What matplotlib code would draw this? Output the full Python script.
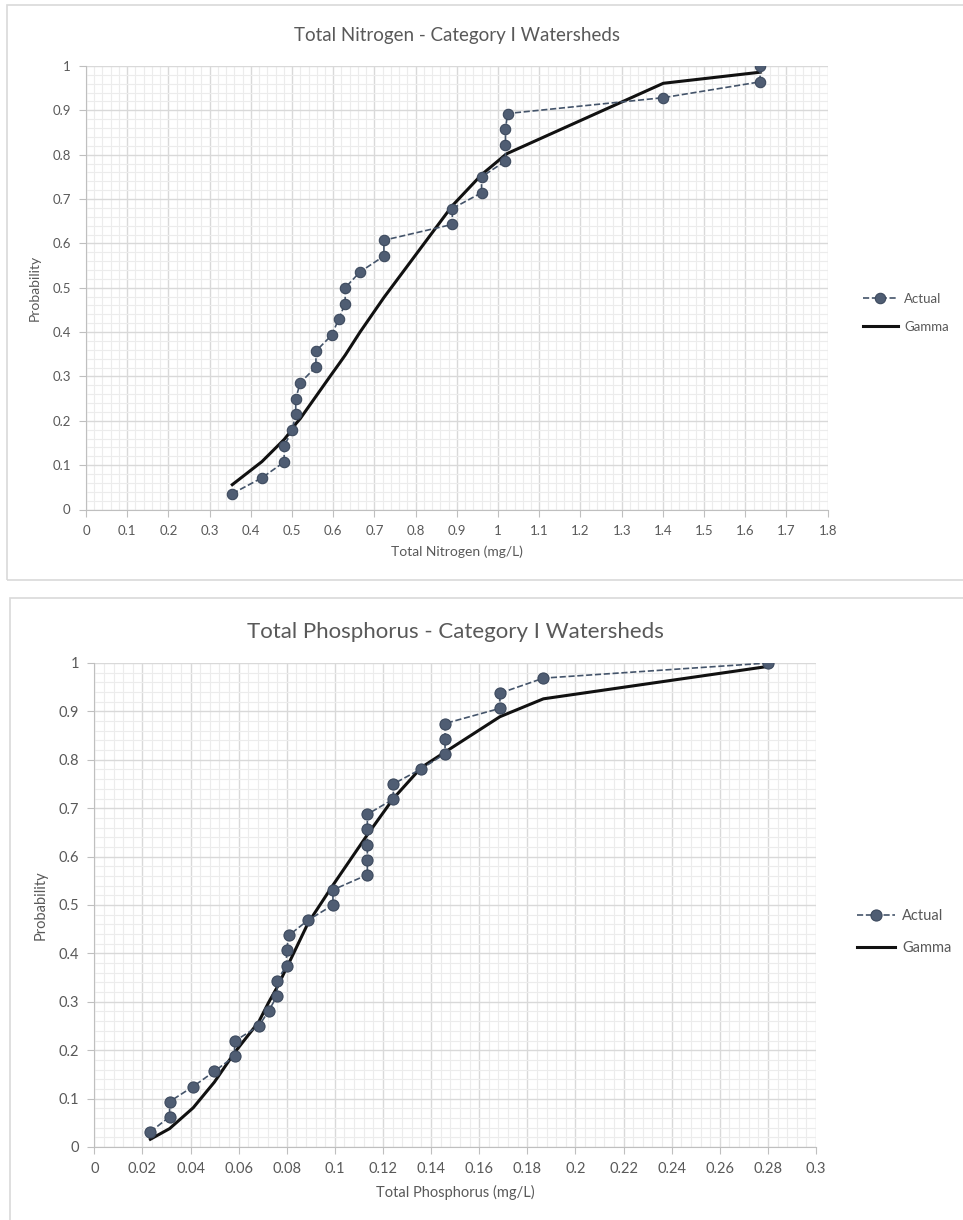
import matplotlib
matplotlib.use("Agg")
import matplotlib.pyplot as plt
from matplotlib.patches import Rectangle
from matplotlib.ticker import MultipleLocator
import numpy as np

plt.rcParams['font.family'] = ['Lato', 'DejaVu Sans']

# Total Nitrogen - observed (plotting position i/28) and fitted gamma CDF
tn_actual_x = [0.355, 0.427, 0.481, 0.481, 0.500, 0.509, 0.509, 0.520, 0.558, 0.558,
               0.596, 0.613, 0.629, 0.629, 0.665, 0.723, 0.723, 0.889, 0.889, 0.960,
               0.960, 1.018, 1.018, 1.018, 1.023, 1.401, 1.636, 1.636]
tn_actual_p = [i / 28 for i in range(1, 29)]
tn_gamma_x = [0.355, 0.427, 0.481, 0.500, 0.509, 0.520, 0.558, 0.596, 0.613, 0.629,
              0.665, 0.723, 0.889, 0.960, 1.018, 1.023, 1.401, 1.636]
tn_gamma_p = [0.056, 0.108, 0.158, 0.180, 0.193, 0.205, 0.255, 0.305, 0.327, 0.348,
              0.400, 0.478, 0.685, 0.755, 0.800, 0.803, 0.961, 0.986]

# Total Phosphorus - observed (plotting position i/32) and fitted gamma CDF
tp_actual_x = [0.0233, 0.0313, 0.0313, 0.0411, 0.0499, 0.0583, 0.0583, 0.0684, 0.0725, 0.0760,
               0.0760, 0.0799, 0.0799, 0.0809, 0.0889, 0.0992, 0.0992, 0.1135, 0.1135, 0.1135,
               0.1135, 0.1135, 0.1243, 0.1243, 0.1359, 0.1458, 0.1458, 0.1458, 0.1686, 0.1686,
               0.1867, 0.2801]
tp_actual_p = [i / 32 for i in range(1, 33)]
tp_gamma_x = [0.0233, 0.0313, 0.0411, 0.0499, 0.0583, 0.0684, 0.0725, 0.0760, 0.0799, 0.0809,
              0.0889, 0.0992, 0.1135, 0.1243, 0.1359, 0.1458, 0.1686, 0.1867, 0.2801]
tp_gamma_p = [0.016, 0.038, 0.081, 0.134, 0.195, 0.259, 0.299, 0.330, 0.370, 0.380,
              0.463, 0.541, 0.645, 0.720, 0.784, 0.816, 0.889, 0.926, 0.993]

W, H = 963, 1220
fig = plt.figure(figsize=(W / 100, H / 100), dpi=100)

TXT = '#595959'
GRID = '#d9d9d9'
MINOR = '#ececec'
PT = '#4f5d73'


def px_box(l, t, r, b):
    return [l / W, 1 - b / H, (r - l) / W, (b - t) / H]


# chart frames
fig.add_artist(Rectangle((7 / W, 1 - 580 / H), 970 / W, 575 / H, transform=fig.transFigure,
                         fill=False, edgecolor=GRID, lw=1.2))
fig.add_artist(Rectangle((10 / W, 1 - 1240 / H), 970 / W, 642 / H, transform=fig.transFigure,
                         fill=False, edgecolor=GRID, lw=1.2))


def draw(ax, ax_x, ax_p, g_x, g_p, xmax, xmaj, ymaj, title, xlabel, fs_tick, fs_title, fs_lab, ms):
    ax.plot(ax_x, ax_p, linestyle='--', color='#44546a', lw=1.2, marker='o', markersize=ms,
            markerfacecolor=PT, markeredgecolor='#3d4a5e', markeredgewidth=0.8, label='Actual', zorder=4)
    ax.plot(g_x, g_p, '-', color='#111111', lw=2.2, label='Gamma', zorder=3)
    ax.set_xlim(0, xmax)
    ax.set_ylim(0, 1)
    ax.xaxis.set_major_locator(MultipleLocator(xmaj))
    ax.xaxis.set_minor_locator(MultipleLocator(xmaj / 5))
    ax.yaxis.set_major_locator(MultipleLocator(ymaj))
    ax.yaxis.set_minor_locator(MultipleLocator(ymaj / 5))
    ax.grid(which='major', color=GRID, lw=1.0)
    ax.grid(which='minor', color=MINOR, lw=0.8)
    ax.set_axisbelow(True)
    for s in ['top', 'right']:
        ax.spines[s].set_visible(False)
    for s in ['left', 'bottom']:
        ax.spines[s].set_color('#bfbfbf')
    ax.tick_params(which='major', length=5, color='#bfbfbf', labelcolor=TXT, labelsize=fs_tick, pad=6)
    ax.tick_params(which='minor', length=0)
    ax.set_xticks(ax.get_xticks())
    ax.set_xticklabels(['{:g}'.format(round(v, 3)) for v in ax.get_xticks()])
    ax.set_yticks(ax.get_yticks())
    ax.set_yticklabels(['{:g}'.format(round(v, 3)) for v in ax.get_yticks()])
    ax.set_xlim(0, xmax)
    ax.set_ylim(0, 1)
    ax.set_title(title, color=TXT, fontsize=fs_title, pad=18)
    ax.set_xlabel(xlabel, color=TXT, fontsize=fs_lab, labelpad=6)
    ax.set_ylabel('Probability', color=TXT, fontsize=fs_lab, labelpad=8)


ax1 = fig.add_axes(px_box(86, 66, 827.7, 509.5))
draw(ax1, tn_actual_x, tn_actual_p, tn_gamma_x, tn_gamma_p, 1.8, 0.1, 0.1,
     'Total Nitrogen - Category I Watersheds', 'Total Nitrogen (mg/L)', 9.5, 13.5, 10, 7.5)
ax1.legend(loc='center left', bbox_to_anchor=(1.0, 0.443), frameon=False, fontsize=9.5,
           labelcolor=TXT, handlelength=2.6, handletextpad=0.5, borderaxespad=2.3,
           labelspacing=1.2)

ax2 = fig.add_axes(px_box(94.3, 663, 816, 1147))
draw(ax2, tp_actual_x, tp_actual_p, tp_gamma_x, tp_gamma_p, 0.3, 0.02, 0.1,
     'Total Phosphorus - Category I Watersheds', 'Total Phosphorus (mg/L)', 10.5, 16, 10.5, 8)
ax2.legend(loc='center left', bbox_to_anchor=(1.0, 0.444), frameon=False, fontsize=10.5,
           labelcolor=TXT, handlelength=2.6, handletextpad=0.5, borderaxespad=2.4,
           labelspacing=1.2)

fig.savefig('out.png', dpi=100)
